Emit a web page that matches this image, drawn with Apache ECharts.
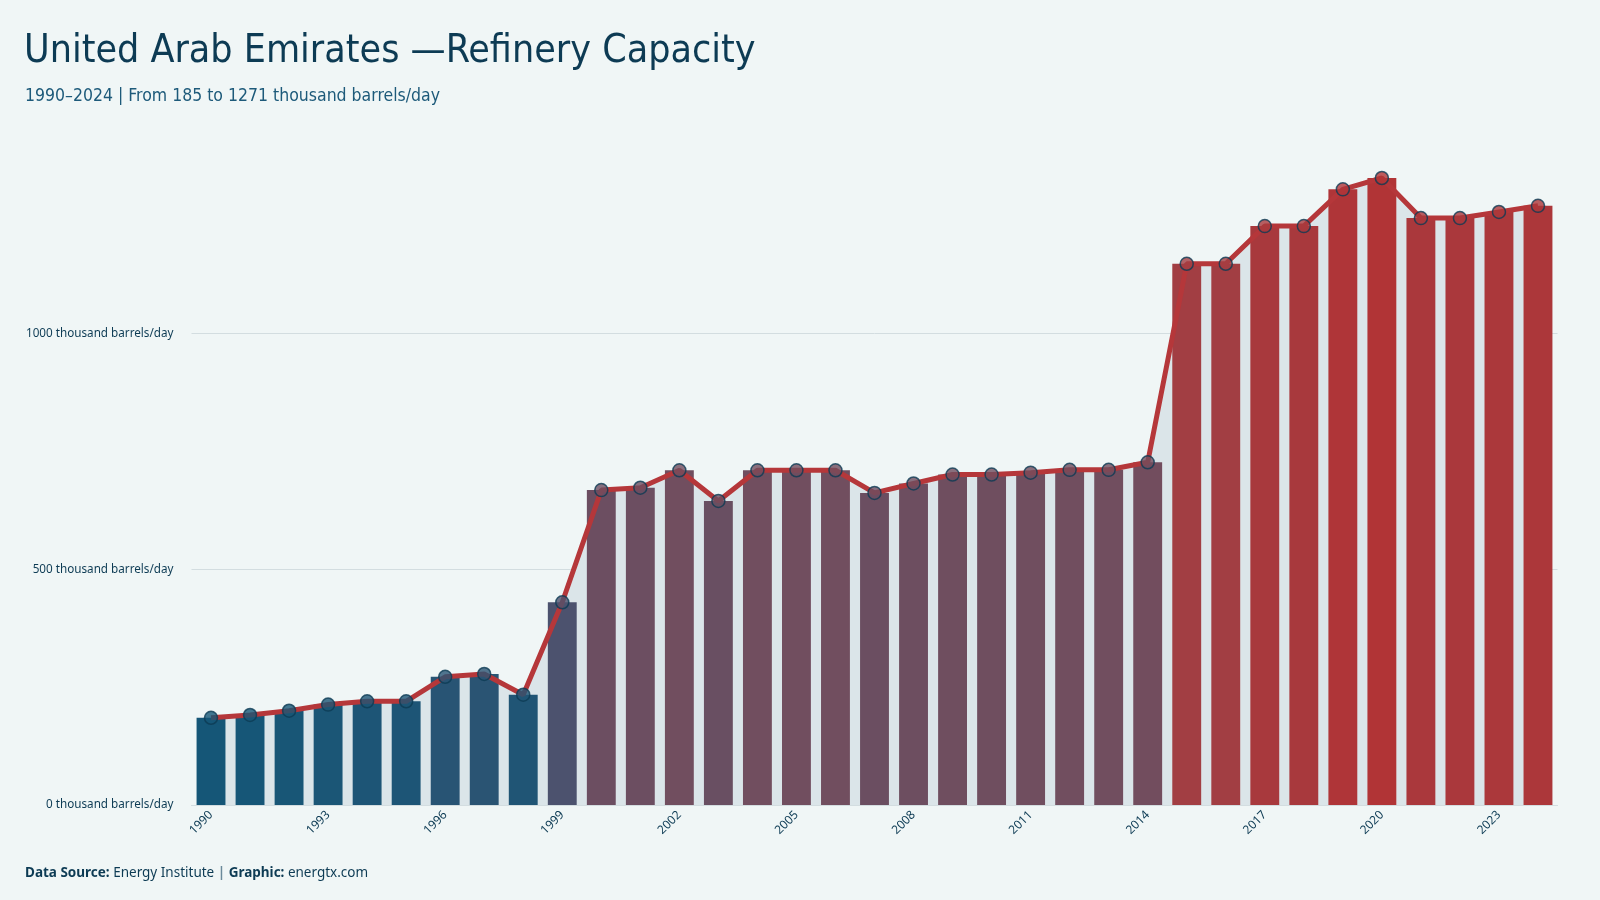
<!DOCTYPE html>
<html lang="en">
<head>
    <meta charset="UTF-8">
    <title>UAE Refinery Capacity</title>
    <style>
        html, body { margin: 0; padding: 0; background: #f0f6f6; }
    </style>
</head>
<body>
<div id="container" style="width:1600px;height:900px"></div>
<script type="text/javascript" src="https://cdn.jsdelivr.net/npm/echarts@6/dist/echarts.min.js"></script>
<script type="text/javascript">
    // thousand barrels/day
    var years = ['1990', '1991', '1992', '1993', '1994', '1995', '1996', '1997', '1998', '1999',
        '2000', '2001', '2002', '2003', '2004', '2005', '2006', '2007', '2008', '2009',
        '2010', '2011', '2012', '2013', '2014', '2015', '2016', '2017', '2018', '2019',
        '2020', '2021', '2022', '2023', '2024'];
    var capacity = [185, 191, 200, 213, 220, 220, 272, 278, 234, 430,
        668, 673, 710, 645, 710, 710, 710, 662, 682, 701,
        701, 705, 711, 711, 727, 1148, 1148, 1228, 1228, 1306,
        1330, 1245, 1245, 1258, 1271];
    var yTicks = [0, 500, 1000];

    var navy = '#0d3b54';
    var dom = document.getElementById('container');
    var myChart = echarts.init(dom, null, { renderer: 'canvas' });

    var option = {
        backgroundColor: '#f0f6f6',
        animation: false,
        title: [
            {
                text: 'United Arab Emirates \u2014Refinery Capacity',
                left: 19,
                top: 27,
                textStyle: {
                    fontFamily: '"Liberation Sans Narrow", "DejaVu Sans Condensed", sans-serif',
                    fontWeight: 'normal',
                    fontSize: 39,
                    color: navy
                }
            },
            {
                text: '1990\u20132024 | From 185 to 1271 thousand barrels/day',
                left: 20,
                top: 82,
                textStyle: {
                    fontFamily: '"Liberation Sans Narrow", "DejaVu Sans Condensed", sans-serif',
                    fontWeight: 'normal',
                    fontSize: 17.5,
                    color: '#1d5a7a'
                }
            },
            {
                text: '{b|Data Source:} Energy Institute {s||} {b|Graphic:} energtx.com',
                left: 20,
                top: 861,
                textStyle: {
                    fontFamily: '"Noto Sans", sans-serif',
                    fontWeight: 'normal',
                    fontSize: 13.5,
                    color: navy,
                    rich: {
                        b: { fontFamily: '"Noto Sans", sans-serif', fontWeight: 'bold', fontSize: 13.5, color: navy },
                        s: { fontFamily: '"Noto Sans", sans-serif', fontWeight: 'bold', fontSize: 13.5, color: '#6b8a9b' }
                    }
                }
            }
        ],
        grid: {
            left: 191.5,
            right: 42.5,
            top: 145,
            bottom: 95
        },
        visualMap: {
            show: false,
            type: 'continuous',
            seriesIndex: [0, 3],
            min: 185,
            max: 1330,
            inRange: {
                color: ['#155677', '#55516c', '#764d5c', '#99434b', '#b13436']
            }
        },
        xAxis: {
            type: 'category',
            data: years,
            boundaryGap: true,
            axisLine: { show: true, lineStyle: { color: '#d3dde0', width: 1 } },
            axisTick: { show: false },
            axisLabel: {
                interval: 2,
                rotate: 45,
                margin: 8,
                fontFamily: '"Noto Sans", sans-serif',
                fontSize: 12,
                color: navy
            },
            splitLine: { show: false }
        },
        yAxis: {
            type: 'value',
            min: 0,
            max: 1400,
            interval: 500,
            axisLine: { show: false },
            axisTick: { show: false },
            axisLabel: {
                showMaxLabel: false,
                margin: 18,
                fontFamily: '"Noto Sans", sans-serif',
                fontSize: 11.7,
                color: navy,
                formatter: function (v) {
                    return yTicks.indexOf(v) >= 0 ? v + ' thousand barrels/day' : '';
                }
            },
            splitLine: {
                show: true,
                showMaxLine: false,
                lineStyle: { color: '#d3dde0', width: 1 }
            }
        },
        series: [
            {
                name: 'Capacity bars',
                type: 'bar',
                data: capacity,
                barCategoryGap: '26%',
                z: 2
            },
            {
                name: 'Area',
                type: 'line',
                data: capacity,
                showSymbol: false,
                symbol: 'none',
                lineStyle: { width: 0 },
                areaStyle: { color: '#dbe5e9', opacity: 1 },
                z: 1
            },
            {
                name: 'Line',
                type: 'line',
                data: capacity,
                symbol: 'none',
                lineStyle: { color: '#b5373a', width: 5 },
                z: 3
            },
            {
                name: 'Markers',
                type: 'scatter',
                data: capacity,
                symbolSize: 13,
                itemStyle: { borderColor: navy, borderWidth: 1.5 },
                z: 4
            }
        ]
    };

    myChart.setOption(option);
    window.addEventListener('resize', myChart.resize);
</script>
</body>
</html>
